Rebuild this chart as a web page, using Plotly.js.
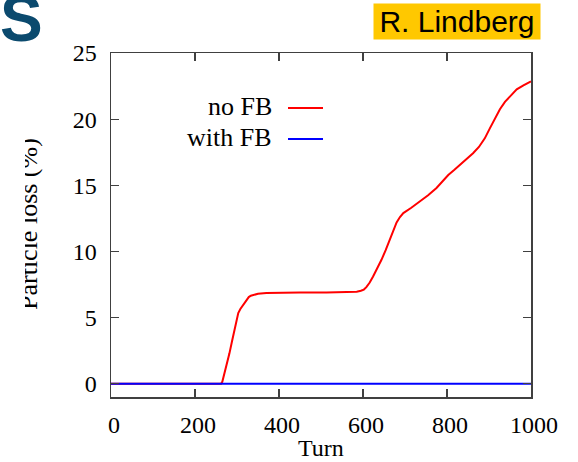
<!DOCTYPE html>
<html>
<head>
<meta charset="utf-8">
<script src="https://cdn.plot.ly/plotly-3.0.1.min.js"></script>
<style>html,body{margin:0;padding:0;background:#fff;}#chart{width:578px;height:462px;}</style>
</head>
<body>
<div id="chart"></div>
<script>
// Data
const seriesNames = ["no FB", "with FB"];
const turnsNoFB = [0, 262, 265, 268, 272, 277, 282, 288, 295, 303, 308, 313, 318, 323, 328, 333, 340, 350, 370, 394, 450, 513, 570, 585, 595, 602, 608, 616, 624, 634, 644, 654, 664, 672, 680, 688, 696, 715, 736, 755, 775, 790, 803, 817, 831, 847, 862, 876, 890, 902, 914, 926, 938, 952, 966, 982, 1000];
const lossNoFB  = [0, 0, 0.15, 0.5, 1.0, 1.6, 2.3, 3.2, 4.3, 5.35, 5.65, 5.9, 6.15, 6.36, 6.55, 6.65, 6.74, 6.81, 6.86, 6.88, 6.89, 6.9, 6.93, 6.96, 7.03, 7.12, 7.3, 7.65, 8.11, 8.7, 9.37, 10.1, 10.88, 11.6, 12.2, 12.6, 12.9, 13.3, 13.77, 14.25, 14.8, 15.3, 15.78, 16.15, 16.54, 17.0, 17.42, 17.9, 18.55, 19.3, 20.06, 20.75, 21.31, 21.8, 22.25, 22.55, 22.85];
const turnsWithFB = [0, 250, 500, 750, 1000];
const lossWithFB  = [0, 0, 0, 0, 0];
const xTicks = [0, 200, 400, 600, 800, 1000];
const yTicks = [0, 5, 10, 15, 20, 25];
const colors = ["#ff0000", "#0000ff"];

const serif = "Liberation Serif, Times New Roman, serif";
const axisCol = "#404040";

const traces = [
  {x: turnsNoFB, y: lossNoFB, name: seriesNames[0], mode: "lines",
   line: {color: colors[0], width: 2, shape: "linear"}},
  {x: turnsWithFB, y: lossWithFB, name: seriesNames[1], mode: "lines",
   line: {color: colors[1], width: 2}}
];

// layout helpers (pixel -> paper)
const L = 111, R = 47, T = 53, B = 65, W = 578, H = 462;
const pw = W - L - R, ph = H - T - B;
const px = v => (v - L) / pw;
const py = v => (H - B - v) / ph;

const layout = {
  width: W, height: H,
  margin: {l: L, r: R, t: T, b: B, pad: 0},
  paper_bgcolor: "#ffffff", plot_bgcolor: "#ffffff",
  showlegend: false,
  font: {family: serif, size: 24, color: "#000"},
  xaxis: {
    range: [0, 1000], tickvals: xTicks, ticktext: xTicks.map(String),
    ticks: "inside", ticklen: 8, tickwidth: 1.3, tickcolor: axisCol,
    showline: true, linecolor: axisCol, linewidth: 1.5, mirror: "ticks",
    showgrid: false, zeroline: false, ticklabelstandoff: 6, ticklabelshift: 3,
    tickfont: {family: serif, size: 24, color: "#000"}
  },
  yaxis: {
    range: [-1, 25], tickvals: yTicks, ticktext: yTicks.map(String),
    ticks: "inside", ticklen: 8, tickwidth: 1.3, tickcolor: axisCol,
    showline: true, linecolor: axisCol, linewidth: 1.5, mirror: "ticks",
    showgrid: false, zeroline: false, ticklabelstandoff: 8,
    tickfont: {family: serif, size: 24, color: "#000"}
  },
  shapes: [
    {type: "line", xref: "paper", yref: "paper", x0: px(288), x1: px(323), y0: py(108), y1: py(108),
     line: {color: colors[0], width: 2}},
    {type: "line", xref: "paper", yref: "paper", x0: px(288), x1: px(323), y0: py(139), y1: py(139),
     line: {color: colors[1], width: 2}}
  ],
  annotations: [
    {xref: "paper", yref: "paper", x: px(274), y: py(107), xanchor: "right", yanchor: "middle",
     text: seriesNames[0], showarrow: false, font: {family: serif, size: 26, color: "#000"}},
    {xref: "paper", yref: "paper", x: px(274), y: py(137), xanchor: "right", yanchor: "middle",
     text: seriesNames[1], showarrow: false, font: {family: serif, size: 26, color: "#000"}},
    {xref: "paper", yref: "paper", x: 0.5, y: py(448), xanchor: "center", yanchor: "middle",
     text: "Turn", showarrow: false, font: {family: serif, size: 24, color: "#000"}},
    {xref: "paper", yref: "paper", x: px(28), y: py(224), xanchor: "center", yanchor: "middle",
     text: "Particle loss (%)", textangle: -90, showarrow: false,
     font: {family: serif, size: 26, color: "#000"}},
    // white panel that hides the top of the rotated axis title, as in the reference slide
    {xref: "paper", yref: "paper", x: px(12.5), y: py(220), xanchor: "center", yanchor: "middle",
     text: " ", showarrow: false, width: 25, height: 230, bgcolor: "#ffffff", borderpad: 0, borderwidth: 0},
    {xref: "paper", yref: "paper", x: px(21), y: py(19), xanchor: "center", yanchor: "middle",
     text: "<b>S</b>", showarrow: false, font: {family: "Liberation Sans, Arial, sans-serif", size: 64, color: "#0b4a6e"}},
    {xref: "paper", yref: "paper", x: px(457), y: py(21.5), xanchor: "center", yanchor: "middle",
     text: "R. Lindberg", showarrow: false, width: 166, height: 35, bgcolor: "#ffc800", borderpad: 0,
     font: {family: "Liberation Sans, Arial, sans-serif", size: 30, color: "#000"}}
  ]
};

Plotly.newPlot("chart", traces, layout, {staticPlot: true, displayModeBar: false});
</script>
</body>
</html>
